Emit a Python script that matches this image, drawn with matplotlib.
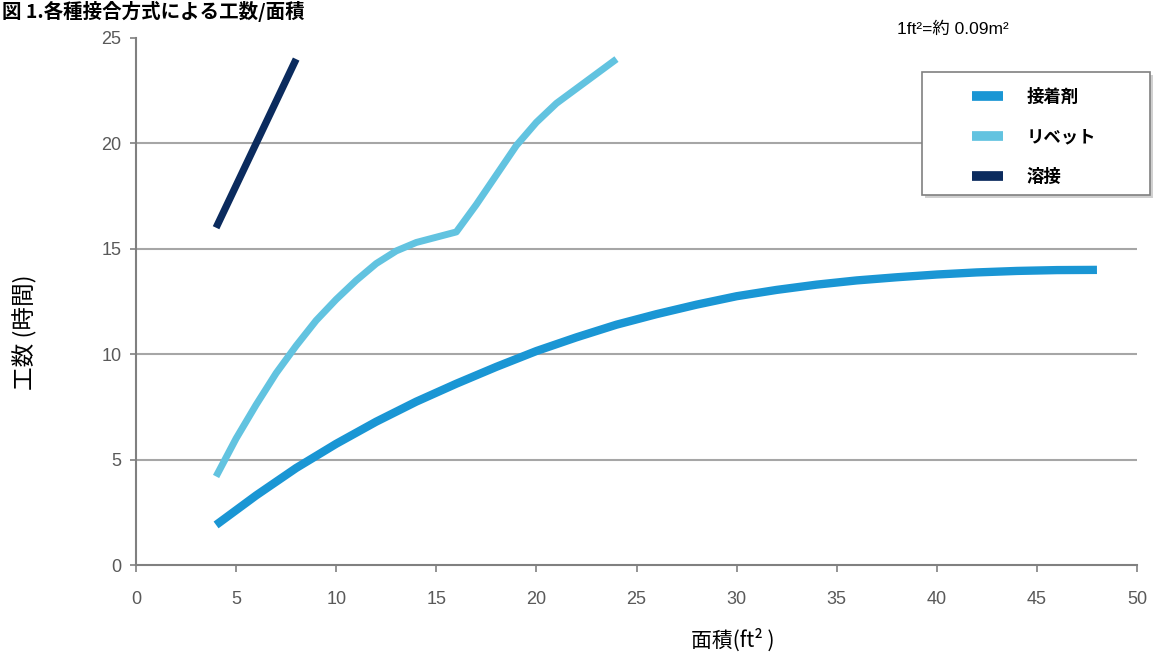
import matplotlib
matplotlib.use("Agg")
import matplotlib.pyplot as plt
from matplotlib.lines import Line2D
from matplotlib.patches import Rectangle

plt.rcParams['font.family'] = ['Noto Sans CJK JP', 'DejaVu Sans']

# 面積 (ft²) vs 工数 (時間) for each joining method
adhesive_x = [4, 6, 8, 10, 12, 14, 16, 18, 20, 22, 24, 26, 28, 30, 32, 34, 36, 38, 40, 42, 44, 46, 48]
adhesive_y = [1.9, 3.3, 4.6, 5.75, 6.8, 7.75, 8.6, 9.4, 10.15, 10.8, 11.4, 11.9, 12.35, 12.75,
              13.05, 13.3, 13.5, 13.65, 13.78, 13.88, 13.95, 13.99, 14.0]

rivet_x = [4, 5, 6, 7, 8, 9, 10, 11, 12, 13, 14, 15, 16, 17, 18, 19, 20, 21, 22, 23, 24]
rivet_y = [4.2, 6.0, 7.6, 9.1, 10.4, 11.6, 12.6, 13.5, 14.3, 14.9, 15.3, 15.55, 15.8, 17.1,
           18.5, 19.9, 21.0, 21.9, 22.6, 23.3, 24.0]

weld_x = [4, 6, 8]
weld_y = [16.0, 20.0, 24.0]

series_names = ['接着剤', 'リベット', '溶接']
series_colors = ['#1a96d4', '#62c3e0', '#0b2b5e']

x_ticks = [0, 5, 10, 15, 20, 25, 30, 35, 40, 45, 50]
y_ticks = [0, 5, 10, 15, 20, 25]

W, H = 1162, 659
fig = plt.figure(figsize=(W / 100, H / 100), dpi=100)
ax = fig.add_axes([136 / W, 1 - 565 / H, (1137 - 136) / W, (565 - 38) / H])

# horizontal grid lines (no line at the top of the scale)
for yv in y_ticks[1:-1]:
    ax.axhline(yv, color='#a6a6a6', lw=1.5, zorder=1)

ax.plot(adhesive_x, adhesive_y, color=series_colors[0], lw=6.0,
        solid_capstyle='butt', solid_joinstyle='round', zorder=3)
ax.plot(rivet_x, rivet_y, color=series_colors[1], lw=5.0,
        solid_capstyle='butt', solid_joinstyle='round', zorder=3)
ax.plot(weld_x, weld_y, color=series_colors[2], lw=5.2,
        solid_capstyle='butt', solid_joinstyle='round', zorder=3)

ax.set_xlim(0, 50)
ax.set_ylim(0, 25)
ax.set_xticks(x_ticks)
ax.set_yticks(y_ticks)
tick_font = {'family': ['Liberation Sans', 'DejaVu Sans'], 'size': 13}
ax.set_xticklabels([str(v) for v in x_ticks], fontdict=tick_font, color='#595959')
ax.set_yticklabels([str(v) for v in y_ticks], fontdict=tick_font, color='#595959')
ax.tick_params(axis='x', direction='out', length=5, width=1.2, color='#808080', pad=14)
ax.tick_params(axis='y', direction='out', length=4.5, width=1.2, color='#808080', pad=6)

for side in ('top', 'right'):
    ax.spines[side].set_visible(False)
for side in ('left', 'bottom'):
    ax.spines[side].set_color('#808080')
    ax.spines[side].set_linewidth(1.5)
ax.set_facecolor('none')

# axis titles
fig.text(25 / W, 1 - 332 / H, '工数 (時間)', rotation=90, ha='center', va='center',
         fontsize=17, color='#000000')
fig.text(733 / W, 1 - 640 / H, '面積(ft² )', ha='center', va='center',
         fontsize=15, color='#000000')

# figure heading
fig.text(2 / W, 1 - 1 / H, '図 1.各種接合方式による工数/面積', ha='left', va='top',
         fontsize=14, fontweight='bold', color='#000000')

# unit note
fig.text(897 / W, 1 - 29 / H, '1ft²=約 0.09m²', ha='left', va='center',
         fontsize=12.5, color='#000000',
         family=['Liberation Sans', 'Noto Sans CJK JP', 'DejaVu Sans'])

# legend frame with a light drop shadow
fig.patches.append(Rectangle((925 / W, 1 - 198 / H), 228 / W, 123 / H,
                             transform=fig.transFigure, facecolor='#d0d0d0',
                             edgecolor='none', zorder=4))
fig.patches.append(Rectangle((922 / W, 1 - 195 / H), 228 / W, 123 / H,
                             transform=fig.transFigure, facecolor='white',
                             edgecolor='#808080', lw=1.2, zorder=5))

handles = [Line2D([0], [0], color=c, lw=7, solid_capstyle='butt') for c in series_colors]
leg = ax.legend(handles, series_names, loc='upper left',
                bbox_to_anchor=(972 / W, 1 - 88 / H), bbox_transform=fig.transFigure,
                frameon=False, handlelength=1.8, handletextpad=1.35,
                labelspacing=1.28, borderpad=0, borderaxespad=0,
                prop={'family': ['Noto Sans CJK JP', 'DejaVu Sans'], 'weight': 'bold', 'size': 12.5})
leg.set_zorder(6)
leg.remove()
fig.add_artist(leg)

fig.savefig('out.png', dpi=100)
